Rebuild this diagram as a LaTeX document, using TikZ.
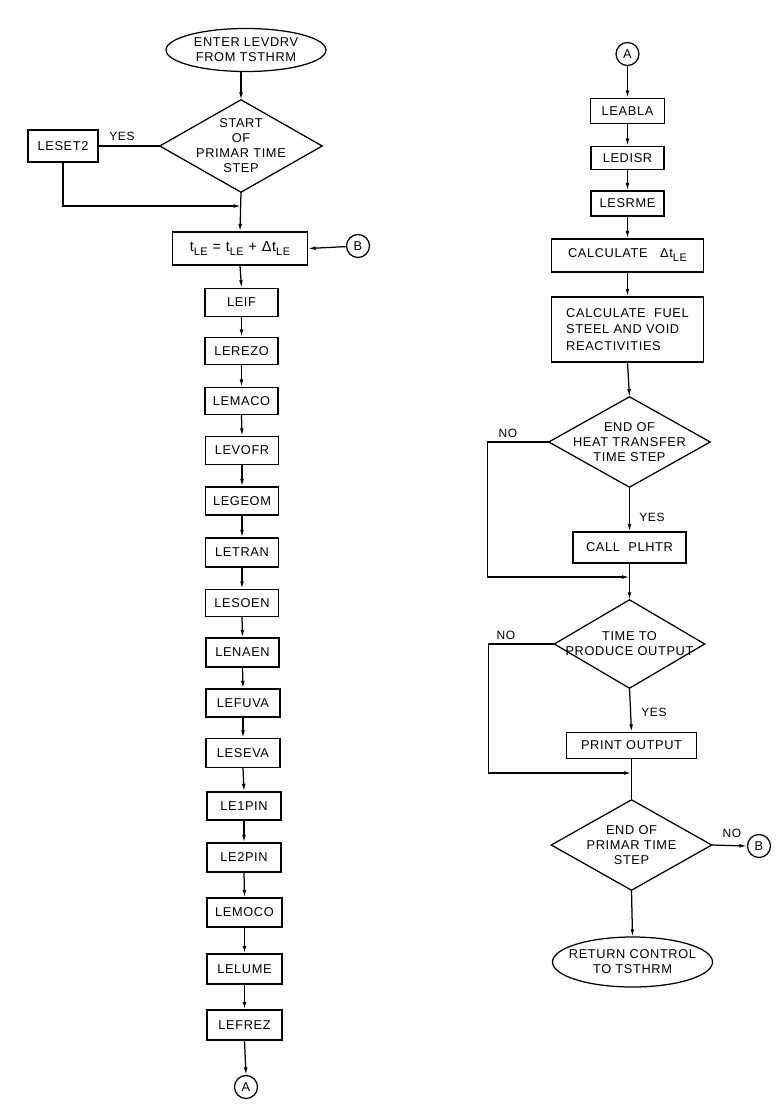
\documentclass[tikz,border=0pt]{standalone}
\usepackage{fontspec}
\setmainfont[LetterSpace=5]{Liberation Sans}
\usetikzlibrary{shapes.geometric,arrows.meta}
\newcommand\lesub{\raisebox{-4pt}{\fontsize{11}{11}\selectfont LE}}
\begin{document}
\begin{tikzpicture}[x=1pt,y=-1pt,
  every node/.style={font=\fontsize{12.8}{15}\selectfont, align=center, inner sep=0pt},
  ln/.style={line width=1.25pt},
  arr/.style={ln,-{Latex[length=7.5pt,width=3.8pt]}},
  bx/.style 2 args={draw,ln,rectangle,minimum width=#1,minimum height=#2},
  dm/.style 2 args={rectangle,minimum width=#1,minimum height=#2},
  el/.style 2 args={rectangle,minimum width=#1,minimum height=#2},
  con/.style={draw,ln,circle,minimum size=23pt},
  lbl/.style={font=\fontsize{12}{13}\selectfont}
]
\useasboundingbox (0,0) rectangle (781,1119);
\fill[white] (0,0) rectangle (781,1119);

% ---------------- left column ----------------
\node[el={160}{43}] (e1) at (246,50) {ENTER LEVDRV\\FROM TSTHRM};
\draw[ln] (e1.center) ellipse [x radius=80pt, y radius=21.5pt];

\node[dm={162}{92}] (d0) at (241,146) {START\\OF\\PRIMAR TIME\\STEP};
\draw[ln] (d0.north) -- (d0.east) -- (d0.south) -- (d0.west) -- cycle;

\node[bx={70}{32}] (leset) at (63,146) {LESET2};
\node[lbl] (yes0) at (122,136) {YES};

\node[bx={135}{33}, font=\fontsize{14.5}{16}\selectfont] (tb) at (240,248.5)
  {t\lesub\ = t\lesub\ + Δt\lesub};
\node[con] (b1) at (358,246) {B};

\node[bx={73}{28}] (leif)   at (241.5,302.5) {LEIF};
\node[bx={73}{27}] (lerezo) at (241.5,351)   {LEREZO};
\node[bx={73}{27}] (lemaco) at (241.5,401)   {LEMACO};
\node[bx={73}{28}] (levofr) at (242,450.5)   {LEVOFR};
\node[bx={73}{28}] (legeom) at (242,501)     {LEGEOM};
\node[bx={73}{29}] (letran) at (242,552.5)   {LETRAN};
\node[bx={73}{27}] (lesoen) at (242,603)     {LESOEN};
\node[bx={73}{29}] (lenaen) at (242.5,652.5) {LENAEN};
\node[bx={74}{28}] (lefuva) at (243,703)     {LEFUVA};
\node[bx={74}{29}] (leseva) at (243,753)     {LESEVA};
\node[bx={74}{28}] (leapin) at (244,806)     {LE1PIN};
\node[bx={74}{29}] (lebpin) at (244,857.5)   {LE2PIN};
\node[bx={75}{29}] (lemoco) at (244.5,912.5) {LEMOCO};
\node[bx={75}{30}] (lelume) at (244.5,969)   {LELUME};
\node[bx={75}{30}] (lefrez) at (244.5,1025)  {LEFREZ};
\node[con] (a1) at (246,1087) {A};

\coordinate (j0) at (241,206);
\draw[arr] (d0.north |- e1.south) -- (d0.north);
\draw[ln] (d0.west) -- (leset.east);
\draw[arr] (leset.south) |- (j0);
\draw[arr] (d0.south) -- (tb.north);
\draw[arr] (b1) -- (tb.east);
\foreach \a/\b in {tb/leif, leif/lerezo, lerezo/lemaco, lemaco/levofr,
  levofr/legeom, legeom/letran, letran/lesoen, lesoen/lenaen, lenaen/lefuva,
  lefuva/leseva, leseva/leapin, leapin/lebpin, lebpin/lemoco, lemoco/lelume,
  lelume/lefrez, lefrez/a1}
  \draw[arr] (\a.south) -- (\b.north);

% ---------------- right column ----------------
\node[con] (a2) at (627.5,54) {A};
\node[bx={74}{25}] (leabla) at (627.5,111)   {LEABLA};
\node[bx={73}{23}] (ledisr) at (627.5,158)   {LEDISR};
\node[bx={73}{25}] (lesrme) at (627.5,203.5) {LESRME};
\node[bx={152}{33}] (calc1) at (627.5,255.5) {CALCULATE\ \ \ Δt\lesub};
\node[bx={152}{65}, align=left, font=\fontsize{12.8}{16.5}\selectfont] (calc2) at (627.5,329.5)
  {CALCULATE\ \ FUEL\\STEEL AND VOID\\REACTIVITIES};

\node[dm={161}{90}] (d1) at (629.5,442) {END OF\\HEAT TRANSFER\\TIME STEP};
\draw[ln] (d1.north) -- (d1.east) -- (d1.south) -- (d1.west) -- cycle;
\node[lbl] (no1) at (508,433) {NO};
\node[lbl] (yes1) at (652,517) {YES};
\node[bx={113}{31}] (plhtr) at (629.5,547.5) {CALL\ \ PLHTR};

\node[dm={150}{88}] (d2) at (629.5,644) {TIME TO\\PRODUCE OUTPUT};
\draw[ln] (d2.north) -- (d2.east) -- (d2.south) -- (d2.west) -- cycle;
\node[lbl] (no2) at (506,635) {NO};
\node[lbl] (yes2) at (654,712) {YES};
\node[bx={130}{26}] (po) at (631.5,745.5) {PRINT OUTPUT};

\node[dm={160}{90}] (d3) at (631.5,845) {END OF\\PRIMAR TIME\\STEP};
\draw[ln] (d3.north) -- (d3.east) -- (d3.south) -- (d3.west) -- cycle;
\node[lbl] (no3) at (732,833) {NO};
\node[con] (b2) at (759,846) {B};

\node[el={160}{50}] (e2) at (632.5,962) {RETURN CONTROL\\TO TSTHRM};
\draw[ln] (e2.center) ellipse [x radius=80pt, y radius=25pt];

\coordinate (j1) at (629.5,577);
\coordinate (j2) at (631.5,773);

\draw[arr] (a2.south) -- (leabla.north);
\draw[arr] (leabla.south) -- (ledisr.north);
\draw[arr] (ledisr.south) -- (lesrme.north);
\draw[arr] (lesrme.south) -- (calc1.north);
\draw[arr] (calc1.south) -- (calc2.north);
\draw[arr] (calc2.south) -- (d1.north);
\draw[arr] (d1.south) -- (plhtr.north);
\draw[arr] (d1.west) -- ++(-61,0) |- (j1);
\draw[arr] (plhtr.south) -- (d2.north);
\draw[arr] (d2.south) -- (po.north);
\draw[arr] (d2.west) -- ++(-65.5,0) |- (j2);
\draw[ln] (po.south) -- (d3.north);
\draw[arr] (d3.east) -- (b2.west);
\draw[arr] (d3.south) -- (e2.north);
\end{tikzpicture}
\end{document}
